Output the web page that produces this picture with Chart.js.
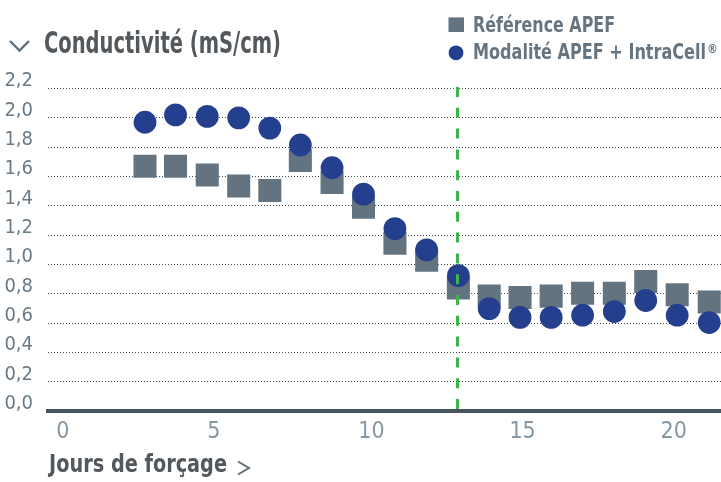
<!DOCTYPE html>
<html>
<head>
<meta charset="utf-8">
<script src="https://cdn.jsdelivr.net/npm/chart.js@4.4.1/dist/chart.umd.min.js"></script>
<style>
  html, body { margin: 0; padding: 0; background: #ffffff; overflow: hidden; }
  #wrap { width: 721px; height: 482px; position: relative; }
</style>
</head>
<body>
<div id="wrap"><canvas id="chart" width="721" height="482"></canvas></div>
<script>
// Forcing days at which conductivity was measured
const days = [2.94, 3.95, 5.0, 6.04, 7.07, 8.08, 9.13, 10.17, 11.21, 12.26, 13.31, 14.33, 15.35, 16.38, 17.42, 18.47, 19.51, 20.55, 21.61];
// Conductivity (mS/cm), reference APEF
const referenceApef = [1.67, 1.67, 1.61, 1.535, 1.505, 1.71, 1.56, 1.39, 1.145, 1.03, 0.84, 0.785, 0.775, 0.785, 0.805, 0.805, 0.885, 0.795, 0.745];
// Conductivity (mS/cm), APEF + IntraCell
const intraCell = [1.97, 2.02, 2.01, 2.0, 1.93, 1.815, 1.66, 1.48, 1.245, 1.10, 0.925, 0.70, 0.64, 0.64, 0.655, 0.68, 0.755, 0.655, 0.605];
// Axis ticks and their labels
const xTicks = [0, 5, 10, 15, 20];
const xTickLabels = ['0', '5', '10', '15', '20'];
const yTicks = [0, 0.2, 0.4, 0.6, 0.8, 1.0, 1.2, 1.4, 1.6, 1.8, 2.0, 2.2];
const yTickLabels = ['0,0', '0,2', '0,4', '0,6', '0,8', '1,0', '1,2', '1,4', '1,6', '1,8', '2,0', '2,2'];
// Day marking the change of regime (dashed green line)
const changeDay = 13.3;

const FONT = "'Liberation Sans Narrow', 'DejaVu Sans Condensed', 'Arial Narrow', 'Liberation Sans', sans-serif";

// Draws a text line squeezed to a given width (condensed look)
function drawFitted(ctx, text, x, y, size, weight, width, color) {
  ctx.save();
  ctx.font = weight + ' ' + size + 'px ' + FONT;
  ctx.textBaseline = 'alphabetic';
  ctx.textAlign = 'left';
  const w = ctx.measureText(text).width;
  const sx = width ? width / w : 1;
  ctx.translate(x, y);
  ctx.scale(sx, 1);
  ctx.fillStyle = color;
  ctx.fillText(text, 0, 0);
  ctx.restore();
}

function chevron(ctx, pts, color, lw) {
  ctx.save();
  ctx.strokeStyle = color;
  ctx.lineWidth = lw;
  ctx.lineJoin = 'miter';
  ctx.beginPath();
  ctx.moveTo(pts[0][0], pts[0][1]);
  for (let i = 1; i < pts.length; i++) ctx.lineTo(pts[i][0], pts[i][1]);
  ctx.stroke();
  ctx.restore();
}

const decor = {
  id: 'decor',
  afterDatasetsDraw(chart) {
    const { ctx, chartArea, scales: { x } } = chart;
    const px = Math.round(x.getPixelForValue(changeDay)) - 0.5;
    ctx.save();
    ctx.strokeStyle = '#3db54a';
    ctx.lineWidth = 3;
    ctx.setLineDash([10, 10.8]);
    ctx.beginPath();
    ctx.moveTo(px, chartArea.bottom - 2.3);
    ctx.lineTo(px, chartArea.top - 1.5);
    ctx.stroke();
    ctx.restore();
  },
  afterDraw(chart) {
    const ctx = chart.ctx;
    // Axis titles
    chevron(ctx, [[10, 41], [19.5, 50.5], [29, 41]], '#5e6f7a', 2.4);
    drawFitted(ctx, 'Conductivité (mS/cm)', 44, 53, 30, 'bold', 237, '#53585d');
    drawFitted(ctx, 'Jours de forçage', 49, 472, 25, 'bold', 178, '#53585d');
    chevron(ctx, [[238, 461.5], [249, 468], [238, 474.5]], '#5e6f7a', 2);

    // Legend
    const ds = chart.data.datasets;
    const rowY = [24.7, 52.8];
    const baseY = [31.7, 59.3];
    ds.forEach((d, i) => {
      ctx.save();
      ctx.fillStyle = d.backgroundColor;
      if (d.pointStyle === 'rect') {
        ctx.fillRect(448.5, rowY[i] - 7.3, 15.5, 14.6);
      } else {
        ctx.beginPath();
        ctx.arc(456, rowY[i], 7.4, 0, Math.PI * 2);
        ctx.fill();
      }
      ctx.restore();
      let label = d.label;
      let sup = '';
      if (label.endsWith('®')) { sup = '®'; label = label.slice(0, -1); }
      const width = i === 0 ? 142 : 233;
      drawFitted(ctx, label, 473, baseY[i], 21, 'bold', width, '#667580');
      if (sup) {
        ctx.save();
        ctx.font = 'bold 12px ' + FONT;
        ctx.fillStyle = '#667580';
        ctx.fillText(sup, 707, 53);
        ctx.restore();
      }
    });
  }
};

new Chart(document.getElementById('chart').getContext('2d'), {
  type: 'scatter',
  data: {
    datasets: [
      {
        label: 'Référence APEF',
        data: days.map((d, i) => ({ x: d, y: referenceApef[i] })),
        pointStyle: 'rect',
        pointRadius: 16.3,
        pointHoverRadius: 16.3,
        backgroundColor: '#637380',
        borderWidth: 0,
        order: 1
      },
      {
        label: 'Modalité APEF + IntraCell®',
        data: days.map((d, i) => ({ x: d, y: intraCell[i] })),
        pointStyle: 'circle',
        pointRadius: 11.4,
        pointHoverRadius: 11.4,
        backgroundColor: '#243f8e',
        borderWidth: 0,
        order: 0
      }
    ]
  },
  options: {
    responsive: false,
    animation: false,
    devicePixelRatio: 1,
    events: [],
    layout: { autoPadding: false, padding: { top: 88.5, left: 0, right: 0, bottom: 0 } },
    plugins: {
      legend: { display: false },
      tooltip: { enabled: false },
      title: { display: false }
    },
    scales: {
      x: {
        type: 'linear',
        min: -0.27,
        max: 22.0,
        afterBuildTicks: s => { s.ticks = xTicks.map(v => ({ value: v })); },
        afterFit: s => { s.height = 70.7; s.paddingLeft = 0; s.paddingRight = 0; },
        grid: { display: false, drawTicks: false },
        border: { display: true, color: '#47535d', width: 4 },
        ticks: {
          align: 'start',
          padding: 7,
          maxRotation: 0,
          autoSkip: false,
          color: '#8797a2',
          font: { family: FONT, size: 23 },
          callback: (v, i) => xTickLabels[i]
        }
      },
      y: {
        min: 0,
        max: 2.2,
        afterBuildTicks: s => { s.ticks = yTicks.map(v => ({ value: v })); },
        afterFit: s => { s.width = 48; },
        grid: { color: '#44494e', lineWidth: 1, drawTicks: false, borderDash: [1, 2] },
        border: { display: false, dash: [1, 2] },
        ticks: {
          padding: 15,
          labelOffset: -7.5,
          color: '#6a7a85',
          font: { family: FONT, size: 20 },
          callback: (v, i) => yTickLabels[i]
        }
      }
    }
  },
  plugins: [decor]
});
</script>
</body>
</html>
